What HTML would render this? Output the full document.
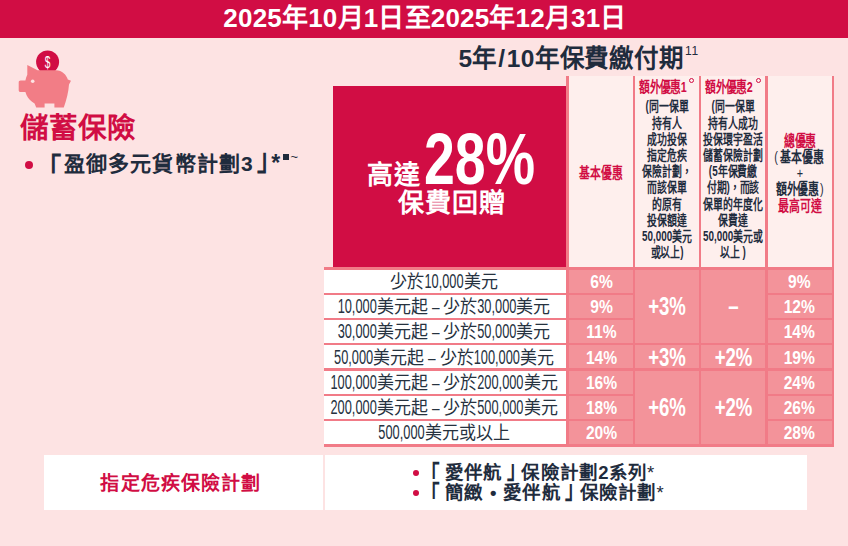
<!DOCTYPE html>
<html lang="zh-HK">
<head>
<meta charset="utf-8">
<title>保費回贈優惠</title>
<style>
*{box-sizing:border-box;margin:0;padding:0}
html,body{width:848px;height:546px;overflow:hidden}
body{position:relative;background:#fde3e3;font-family:"Liberation Sans",sans-serif;color:#1f2c3d}
.abs{position:absolute}
/* condensed latin: small font stretched vertically, pivot on baseline */
.n{display:inline-block;line-height:1;transform-origin:50% 84.65%}
.banner{left:0;top:0;width:848px;height:37.8px;background:#d10d44;color:#fff;font-weight:bold;font-size:26px;line-height:37.5px;text-align:center;letter-spacing:.2px;padding-left:2px;white-space:nowrap}
.subtitle{left:458.5px;top:42px;height:34px;line-height:34px;font-size:24.5px;font-weight:bold;white-space:nowrap;letter-spacing:.3px}
.subtitle .sl{margin:0 1.5px}
.subtitle .cj{margin-left:.5px;letter-spacing:.8px}
.subtitle sup{font-size:12px;font-weight:normal;position:relative;top:-12.5px;vertical-align:baseline;letter-spacing:.6px;margin-left:1.5px}
.h1{left:20px;top:109px;height:38px;line-height:38px;font-size:28.5px;font-weight:bold;color:#d10d44;white-space:nowrap;letter-spacing:0}
.prod{left:24px;top:148px;height:30px;line-height:30px;font-size:21px;font-weight:bold;white-space:nowrap;letter-spacing:1.1px}
.prod .dot{display:inline-block;width:8.4px;height:8.4px;border-radius:50%;background:#d10d44;vertical-align:middle;margin-left:.8px;margin-right:7.8px;position:relative;top:-.5px}
.prod .lb{display:inline-block;margin-left:-2.5px;margin-right:3.5px;transform:scale(1.2,1.38);transform-origin:60% 22%;position:relative;top:2px;left:.8px}
.prod .rb{display:inline-block;margin-left:4px;transform:scale(1.15,1.42);transform-origin:40% 88%;position:relative;top:.8px}
.prod .ast{font-size:23px;letter-spacing:0;margin-left:-8.5px;position:relative;top:-.5px}
.prod .sq{display:inline-block;width:6px;height:6px;background:#1f2c3d;position:relative;top:-11px;margin-left:3.2px}
.prod .til{font-size:13px;font-weight:normal;letter-spacing:0;position:relative;top:-10px;margin-left:1px}
.redbox{left:333px;top:86px;width:233px;height:181px;background:#d10d44;color:#fff;font-weight:bold}
.redbox .upto{left:34px;top:72.5px;font-size:26px;line-height:32px;white-space:nowrap;letter-spacing:1px}
.redbox .big{left:91px;top:47px;white-space:nowrap;font-size:55.5px}
.redbox .big .n{transform:scaleY(1.3)}
.redbox .rebate{left:0;width:233px;top:101px;text-align:center;font-size:26px;line-height:32px;letter-spacing:1px;padding-left:4px}
/* header columns */
.hdr{top:76px;height:192px;background:#feefed}
.vl{top:76px;width:2px;height:370px;background:#f17b87}
.hc{position:absolute;top:0;text-align:center;font-weight:bold;white-space:nowrap;transform-origin:50% 0}
.red{color:#d10d44}
.pl{font-weight:normal;margin-right:3px;margin-left:-3px}
.pr{font-weight:normal;margin-left:1px;margin-right:1px}
/* rows */
.row{position:absolute;left:324px;width:510px;height:25.3px}
.lab{position:absolute;left:0;top:0;width:240px;height:100%;text-align:center;font-size:17px;font-weight:300;white-space:nowrap}
.lab .t{display:inline-block;transform:scaleY(1.07);transform-origin:50% 62%}
.lab .n{font-size:12.8px;font-weight:normal;transform:scaleY(1.47)}
.hl{left:324px;width:510px;height:2.3px;background:#f17b87}
.pink{background:#f3939a}
.v{position:absolute;color:#fff;font-weight:bold;text-align:center;white-space:nowrap}
.v.s .n{transform:scaleY(1.18);position:relative;left:.5px}
.v.b .n{transform:scaleY(1.36);position:relative;top:2px}
.v.s{font-size:15.6px}
.v.b{font-size:18.6px}
.box{top:455px;height:55.3px;background:#fff}

.ring{position:absolute;top:1.6px;width:5.8px;height:5.8px;border:1px solid #d10d44;border-radius:50%}
.lab{line-height:27.4px;color:#26323f}
.lab .d{display:inline-block;transform:scaleX(.8);margin:0 3px}
.v{top:0;line-height:27.2px}
.boxl{position:absolute;left:0;width:100%;top:0;height:55px;line-height:55px;text-align:center;font-size:19px;font-weight:bold;letter-spacing:1.15px;padding-right:5px;top:1px}
.bl{position:absolute;left:88px;height:20px;line-height:20px;font-size:18.5px;font-weight:bold;white-space:nowrap;letter-spacing:.2px;word-spacing:1.2px;margin-top:1px}
.bl .lb{display:inline-block;margin-right:5px;transform:scaleY(1.32);transform-origin:50% 22%}
.bl .rb{display:inline-block;margin-left:4px;margin-right:-4.5px;transform:scaleY(1.32);transform-origin:50% 88%}
.bl .dot{display:inline-block;width:6px;height:6px;border-radius:50%;background:#d10d44;vertical-align:middle;margin-right:2px;position:relative;top:-1px}
.bl .st{font-weight:normal}
</style>
</head>
<body>
<div class="abs banner">2025年10月1日至2025年12月31日</div>
<div class="abs subtitle">5年<span class="sl">/</span>10年<span class="cj">保費繳付期</span><sup>11</sup></div>

<svg class="abs" style="left:10px;top:44px" width="80" height="70" viewBox="10 44 80 70">
  <circle cx="47.6" cy="62" r="11.5" fill="#d10d44"/>
  <path fill="#f27d86" d="M27.3 65 L37.6 70.3 H56 C62 70.3 66.5 75 67.8 79.6 L71 80.8 L69 84.5 C68.5 92 66.5 100 63.8 107.5 H54.4 V103.6 H44.6 V107.5 H36.2 L34.6 103.5 C31 101.5 28 98.5 26.5 95 L25.4 92 H20.6 C19.4 92 18.7 91.3 18.7 90.2 V82.4 C18.7 81.2 19.4 80.5 20.6 80.5 H25.4 C25.8 78.5 26.4 76.5 27.3 74.8 Z"/>
  <circle cx="32.7" cy="81.2" r="1.8" fill="#fde3e3"/>
  <text x="47.6" y="67.9" font-family="Liberation Sans, sans-serif" font-size="17" fill="#fff" text-anchor="middle" transform="translate(47.6 0) scale(.6 1) translate(-47.6 0)">$</text>
</svg>

<div class="abs h1">儲蓄保險</div>
<div class="abs prod"><span class="dot"></span><span class="lb">「</span>盈御多元貨幣計劃3<span class="rb">」</span><span class="ast">*</span><span class="sq"></span><span class="til">~</span></div>

<div class="abs redbox">
  <div class="abs upto">高達</div>
  <div class="abs big"><span class="n">28%</span></div>
  <div class="abs rebate">保費回贈</div>
</div>


<!-- header cells -->
<div class="abs hdr" style="left:567px;width:267px">
  <div class="hc red" style="left:-26px;width:120px;top:88px;font-size:15px;line-height:18px;transform:scaleX(.72)">基本優惠</div>

  <div class="hc red" style="left:35.5px;width:120px;top:2px;font-size:14.5px;line-height:18px;transform:scaleX(.74)">額外優惠1</div>
  <div class="ring" style="left:121.6px"></div>
  <div class="hc" style="left:39.5px;width:120px;top:22.4px;font-size:14px;line-height:16.2px;transform:scaleX(.705)">(同一保單<br>持有人<br>成功投保<br>指定危疾<br>保險計劃，<br>而該保單<br>的原有<br>投保額達<br>50,000美元<br>或以上)</div>

  <div class="hc red" style="left:102.3px;width:120px;top:2px;font-size:14.5px;line-height:18px;transform:scaleX(.74)">額外優惠2</div>
  <div class="ring" style="left:188.5px"></div>
  <div class="hc" style="left:106px;width:120px;top:22.4px;font-size:14px;line-height:16.2px;transform:scaleX(.705)">(同一保單<br>持有人成功<br>投保環宇盈活<br>儲蓄保險計劃<br>(5年保費繳<br>付期)，而該<br>保單的年度化<br>保費達<br>50,000美元或<br>以上 )</div>

  <div class="hc" style="left:172.6px;width:120px;top:57.2px;font-size:15px;line-height:16.1px;transform:scaleX(.725)"><span class="red">總優惠</span><br><span class="pl">(</span>基本優惠<br><span style="font-weight:normal">+</span><br>額外優惠<span class="pr">)</span><br><span class="red">最高可達</span></div>
</div>

<!-- data rows -->
<div class="abs" style="left:324px;top:268px;width:243px;height:178px;background:#fff"></div>
<div class="abs pink" style="left:567px;top:268px;width:267px;height:178px"></div>
<div class="row" style="top:268.6px"><div class="lab"><span class="t">少於<span class="n">10,000</span>美元</span></div><div class="v s" style="left:245px;width:64px"><span class="n">6%</span></div><div class="v s" style="left:442.8px;width:64px"><span class="n">9%</span></div></div>
<div class="row" style="top:293.9px"><div class="lab"><span class="t"><span class="n">10,000</span>美元起<span class="d">–</span>少於<span class="n">30,000</span>美元</span></div><div class="v s" style="left:245px;width:64px"><span class="n">9%</span></div><div class="v s" style="left:442.8px;width:64px"><span class="n">12%</span></div></div>
<div class="row" style="top:319.2px"><div class="lab"><span class="t"><span class="n">30,000</span>美元起<span class="d">–</span>少於<span class="n">50,000</span>美元</span></div><div class="v s" style="left:245px;width:64px"><span class="n">11%</span></div><div class="v s" style="left:442.8px;width:64px"><span class="n">14%</span></div></div>
<div class="row" style="top:344.5px"><div class="lab"><span class="t"><span class="n">50,000</span>美元起<span class="d">–</span>少於<span class="n">100,000</span>美元</span></div><div class="v s" style="left:245px;width:64px"><span class="n">14%</span></div><div class="v s" style="left:442.8px;width:64px"><span class="n">19%</span></div></div>
<div class="row" style="top:369.8px"><div class="lab"><span class="t"><span class="n">100,000</span>美元起<span class="d">–</span>少於<span class="n">200,000</span>美元</span></div><div class="v s" style="left:245px;width:64px"><span class="n">16%</span></div><div class="v s" style="left:442.8px;width:64px"><span class="n">24%</span></div></div>
<div class="row" style="top:395.1px"><div class="lab"><span class="t"><span class="n">200,000</span>美元起<span class="d">–</span>少於<span class="n">500,000</span>美元</span></div><div class="v s" style="left:245px;width:64px"><span class="n">18%</span></div><div class="v s" style="left:442.8px;width:64px"><span class="n">26%</span></div></div>
<div class="row" style="top:420.4px"><div class="lab"><span class="t"><span class="n">500,000</span>美元或以上</span></div><div class="v s" style="left:245px;width:64px"><span class="n">20%</span></div><div class="v s" style="left:442.8px;width:64px"><span class="n">28%</span></div></div>
<div class="v b" style="left:634.5px;top:268.6px;width:65px;height:75.9px;line-height:75.9px"><span class="n">+3%</span></div>
<div class="v b" style="left:634.5px;top:344.5px;width:65px;height:25.3px;line-height:25.3px"><span class="n">+3%</span></div>
<div class="v b" style="left:634.5px;top:369.8px;width:65px;height:75.9px;line-height:75.9px"><span class="n">+6%</span></div>
<div class="v b" style="left:701px;top:268.6px;width:65px;height:75.9px;line-height:75.9px"><span class="n">–</span></div>
<div class="v b" style="left:701px;top:344.5px;width:65px;height:25.3px;line-height:25.3px"><span class="n">+2%</span></div>
<div class="v b" style="left:701px;top:369.8px;width:65px;height:75.9px;line-height:75.9px"><span class="n">+2%</span></div>
<div class="abs hl" style="top:266.9px;height:2.7px"></div>
<div class="abs hl" style="top:292.5px;width:311px"></div><div class="abs hl" style="top:292.5px;left:766px;width:68px"></div>
<div class="abs hl" style="top:317.8px;width:311px"></div><div class="abs hl" style="top:317.8px;left:766px;width:68px"></div>
<div class="abs hl" style="top:343.1px"></div>
<div class="abs hl" style="top:368.4px"></div>
<div class="abs hl" style="top:393.7px;width:311px"></div><div class="abs hl" style="top:393.7px;left:766px;width:68px"></div>
<div class="abs hl" style="top:419.0px;width:311px"></div><div class="abs hl" style="top:419.0px;left:766px;width:68px"></div>
<div class="abs hl" style="top:444.2px;height:2.7px"></div>
<div class="abs vl" style="left:566.2px;width:2.7px"></div>
<div class="abs vl" style="left:632.7px;width:2.4px"></div>
<div class="abs vl" style="left:698.8px;width:2.4px"></div>
<div class="abs vl" style="left:765.3px;width:2.5px"></div>
<div class="abs vl" style="left:831.7px;width:2.3px"></div>

<!-- bottom boxes -->
<div class="abs box" style="left:44px;width:279.1px"><div class="boxl red">指定危疾保險計劃</div></div>
<div class="abs box" style="left:324.9px;width:482.1px">
  <div class="bl" style="top:7px"><span class="dot"></span><span class="lb">「</span>愛伴航<span class="rb">」</span>保險計劃2系列<span class="st">*</span></div>
  <div class="bl" style="top:26.8px"><span class="dot"></span><span class="lb">「</span>簡緻 • 愛伴航<span class="rb">」</span>保險計劃<span class="st">*</span></div>
</div>
</body>
</html>
